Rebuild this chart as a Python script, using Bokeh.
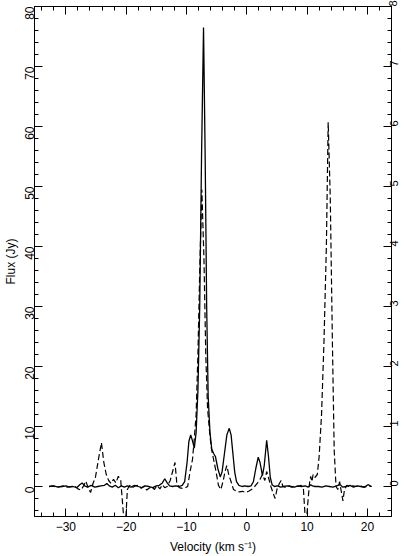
import math
from bokeh.plotting import figure
from bokeh.models import Range1d, LinearAxis, FixedTicker
from bokeh.embed import file_html
from bokeh.resources import INLINE

# Solid line: flux density in Jy (left axis)
vel_solid = [-32.8, -32.0, -31.3, -30.6, -30.0, -29.4, -28.8, -28.2, -27.7, -27.3,
             -26.9, -26.4, -25.8, -25.2, -24.7, -24.2, -23.6, -23.2, -22.8, -22.3,
             -21.8, -21.3, -20.8, -20.3, -19.8, -19.2, -18.6, -18.0, -17.4, -16.8,
             -16.2, -15.6, -15.0, -14.5, -14.0, -13.6, -13.2, -12.8, -12.3, -11.8,
             -11.2, -10.7, -10.3, -9.9, -9.6, -9.3, -9.0, -8.7, -8.4, -8.1,
             -7.8, -7.5, -7.17, -6.9, -6.65, -6.4, -6.1, -5.8, -5.5, -5.2,
             -4.8, -4.4, -4.1, -3.7, -3.3, -2.9, -2.6, -2.3, -2.0, -1.7,
             -1.3, -0.8, -0.3, 0.2, 0.7, 1.1, 1.5, 1.9, 2.2, 2.6,
             2.9, 3.3, 3.6, 3.9, 4.2, 4.6, 5.1, 5.6, 6.1, 6.7,
             7.3, 7.9, 8.5, 9.1, 9.7, 10.2, 10.6, 10.9, 11.3, 11.9,
             12.5, 13.1, 13.7, 14.3, 14.9, 15.5, 15.9, 16.5, 17.1, 17.7,
             18.3, 18.9, 19.5, 20.1, 20.7]
flux_solid = [0.0, 0.1, -0.1, 0.0, 0.1, -0.1, 0.0, -0.2, 0.3, 0.6,
              0.1, -0.1, 0.2, -0.1, 0.0, 0.1, 0.2, 0.5, 0.1, -0.1,
              0.2, -0.2, 0.1, -0.1, 0.1, -0.1, 0.2, 0.0, -0.2, 0.1,
              0.0, -0.2, 0.1, 0.2, 0.6, 1.3, 0.6, 0.1, 0.0, 0.1,
              0.0, 0.2, 0.8, 4.0, 7.5, 8.6, 7.6, 6.4, 9.0, 16.0,
              30.0, 55.0, 76.5, 55.0, 30.0, 15.0, 9.0, 6.2, 5.5, 5.0,
              3.0, 1.6, 2.4, 5.5, 8.6, 9.7, 8.6, 5.5, 2.4, 0.8,
              0.2, 0.0, 0.1, 0.0, 0.1, 0.8, 3.0, 4.9, 4.0, 1.8,
              3.5, 7.7, 5.0, 1.5, 0.3, 0.0, 0.1, -0.1, 0.0, 0.1,
              0.0, -0.1, 0.1, 0.0, 0.1, -0.1, 0.3, 0.1, 0.0, 0.0,
              -0.1, 0.1, 0.0, -0.1, 0.1, 0.3, -0.1, 0.0, 0.2, -0.1,
              0.1, 0.0, -0.1, 0.3, 0.0]

# Dashed line: right-axis units
vel_dashed = [-32.8, -32.2, -31.6, -31.0, -30.4, -29.8, -29.2, -28.6, -28.0, -27.5,
              -27.0, -26.7, -26.3, -25.9, -25.5, -25.1, -24.6, -24.1, -23.7, -23.3,
              -22.9, -22.5, -22.1, -21.7, -21.3, -20.9, -20.5, -20.2, -19.8, -19.4,
              -19.0, -18.5, -18.0, -17.5, -17.0, -16.6, -16.2, -15.8, -15.3, -14.9,
              -14.4, -14.0, -13.6, -13.2, -12.7, -12.3, -11.9, -11.6, -11.2, -10.7,
              -10.2, -9.8, -9.4, -9.0, -8.7, -8.4, -8.1, -7.8, -7.45, -7.1,
              -6.8, -6.5, -6.2, -5.9, -5.5, -5.1, -4.7, -4.3, -3.9, -3.6,
              -3.3, -3.0, -2.6, -2.2, -1.7, -1.2, -0.7, -0.2, 0.3, 0.8,
              1.3, 1.8, 2.2, 2.6, 3.0, 3.3, 3.6, 4.0, 4.4, 4.7,
              5.0, 5.4, 5.7, 6.0, 6.5, 7.0, 7.5, 8.0, 8.5, 9.0,
              9.4, 9.8, 10.1, 10.4, 10.6, 10.8, 11.0, 11.3, 11.7, 12.0,
              12.4, 12.8, 13.2, 13.5, 13.85, 14.2, 14.5, 14.8, 15.1, 15.4,
              15.7, 15.95, 16.2, 16.6, 17.1, 17.6, 18.2, 18.8, 19.4, 20.0,
              20.7]
flux_dashed = [0.0, 0.01, -0.01, 0.0, 0.01, -0.01, 0.0, 0.01, -0.04, -0.06,
               0.02, 0.09, -0.02, -0.10, 0.05, 0.15, 0.45, 0.73, 0.40, 0.20,
               0.10, 0.05, 0.12, 0.06, 0.17, 0.10, -0.40, -0.80, -0.05, 0.02,
               -0.02, 0.01, 0.02, -0.03, 0.01, -0.06, -0.03, 0.0, -0.05, 0.02,
               -0.04, 0.03, -0.02, 0.0, 0.10, 0.25, 0.40, 0.05, -0.02, -0.03,
               -0.02, 0.0, 0.25, 0.45, 0.80, 1.20, 2.20, 3.60, 4.95, 3.80,
               2.20, 1.30, 0.95, 0.65, 0.45, 0.25, 0.02, -0.05, 0.10, 0.25,
               0.35, 0.20, 0.08, -0.05, -0.08, -0.09, -0.08, -0.10, -0.08, -0.05,
               0.00, 0.06, 0.12, 0.20, 0.10, 0.25, 0.15, 0.0, -0.12, -0.20,
               -0.05, 0.05, 0.10, 0.0, -0.02, 0.01, -0.01, 0.01, 0.0, 0.02,
               -0.05, -0.70, -0.30, 0.05, 0.17, 0.08, 0.20, 0.15, 0.20, 0.50,
               1.20, 2.40, 4.00, 6.07, 4.80, 2.40, 0.60, 0.00, -0.05, 0.08,
               -0.10, -0.24, -0.05, 0.02, -0.01, 0.01, 0.0, 0.01, -0.01, 0.0,
               0.0]

x_ticks = [-30, -20, -10, 0, 10, 20]
x_tick_labels = ["\u221230", "\u221220", "\u221210", "0", "10", "20"]
x_minor = [-34, -32, -28, -26, -24, -22, -18, -16, -14, -12, -8, -6, -4, -2,
           2, 4, 6, 8, 12, 14, 16, 18, 22]
left_ticks = [0, 10, 20, 30, 40, 50, 60, 70, 80]
left_minor = [-4, -2, 2, 4, 6, 8, 12, 14, 16, 18, 22, 24, 26, 28, 32, 34, 36, 38,
              42, 44, 46, 48, 52, 54, 56, 58, 62, 64, 66, 68, 72, 74, 76, 78]
right_ticks = [0, 1, 2, 3, 4, 5, 6, 7, 8]
right_minor = [v / 10 for v in left_minor]
x_title = "Velocity (km s\u207b\u00b9)"
y_title = "Flux (Jy)"

FONT = "Liberation Sans"

p = figure(width=405, height=556,
           x_range=Range1d(-35.2, 24.0), y_range=Range1d(-5, 80),
           output_backend="svg", toolbar_location=None,
           min_border_left=34, min_border_right=14,
           min_border_top=6, min_border_bottom=39)
p.extra_y_ranges = {"right": Range1d(-0.5, 8)}
p.grid.visible = False
p.outline_line_color = "black"
p.outline_line_width = 1
p.background_fill_color = "white"
p.border_fill_color = "white"


def style(ax, size="12px"):
    ax.major_tick_in = 8
    ax.major_tick_out = 0
    ax.minor_tick_in = 4
    ax.minor_tick_out = 0
    ax.axis_line_color = "black"
    ax.major_tick_line_color = "black"
    ax.minor_tick_line_color = "black"
    ax.major_label_text_font = FONT
    ax.major_label_text_font_size = size
    ax.major_label_text_color = "black"
    ax.axis_label_text_font = FONT
    ax.axis_label_text_font_size = "12px"
    ax.axis_label_text_font_style = "normal"
    ax.axis_label_text_color = "black"


xb = p.xaxis[0]
style(xb)
xb.ticker = FixedTicker(ticks=x_ticks, minor_ticks=x_minor)
xb.major_label_overrides = dict(zip(x_ticks, x_tick_labels))
xb.major_label_standoff = 5
xb.axis_label = x_title
xb.axis_label_standoff = 6

yl = p.yaxis[0]
style(yl)
yl.ticker = FixedTicker(ticks=left_ticks, minor_ticks=left_minor)
yl.major_label_orientation = math.pi / 2
yl.major_label_standoff = 5
yl.axis_label = y_title
yl.axis_label_standoff = 0

yr = LinearAxis(y_range_name="right", axis_label=None, axis_label_standoff=0)
style(yr, "11px")
yr.ticker = FixedTicker(ticks=right_ticks, minor_ticks=right_minor)
yr.major_label_orientation = math.pi / 2
yr.major_label_standoff = 2
p.add_layout(yr, "right")

xt = LinearAxis(axis_label=None, axis_label_standoff=0)
style(xt, "0px")
xt.ticker = FixedTicker(ticks=x_ticks, minor_ticks=x_minor)
xt.major_label_overrides = {t: "" for t in x_ticks}
xt.major_label_standoff = 0
p.add_layout(xt, "above")

p.line(vel_solid, flux_solid, line_color="black", line_width=1.3)
p.line(vel_dashed, flux_dashed, line_color="black", line_width=1.2,
       line_dash="6 3", y_range_name="right")

open("out.html", "w").write(file_html(p, INLINE))
